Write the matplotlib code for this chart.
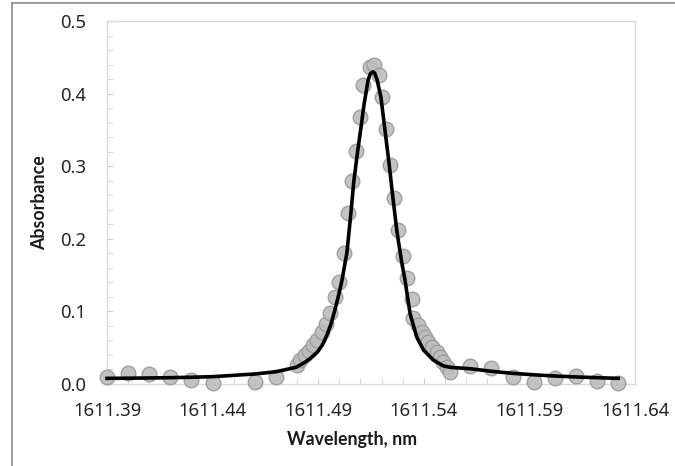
import matplotlib
matplotlib.use("Agg")
import matplotlib.pyplot as plt
from matplotlib.lines import Line2D
from matplotlib.ticker import MultipleLocator

# measured absorbance points
wavelength = [
    1611.390, 1611.400, 1611.410, 1611.420, 1611.430, 1611.440, 1611.460, 1611.470,
    1611.4798, 1611.4814, 1611.4838, 1611.4856, 1611.4877, 1611.4893, 1611.4917,
    1611.4937, 1611.4958, 1611.4980, 1611.5000, 1611.5022, 1611.5043, 1611.5060,
    1611.5079, 1611.5098, 1611.5114, 1611.5143, 1611.5162, 1611.5186, 1611.5201,
    1611.5221, 1611.5240, 1611.5259, 1611.5279, 1611.5300, 1611.5319, 1611.5342,
    1611.5350, 1611.5374, 1611.5390, 1611.5406, 1611.5421, 1611.5437, 1611.5461,
    1611.5477, 1611.5492, 1611.5511, 1611.5524,
    1611.562, 1611.572, 1611.582, 1611.592, 1611.602, 1611.612, 1611.622, 1611.632,
]
absorbance = [
    0.010, 0.0147, 0.0138, 0.0092, 0.0055, 0.001, 0.0024, 0.0092,
    0.026, 0.033, 0.040, 0.046, 0.054, 0.061, 0.071,
    0.0826, 0.098, 0.120, 0.140, 0.180, 0.235, 0.280,
    0.321, 0.368, 0.412, 0.437, 0.439, 0.4256, 0.3953,
    0.3512, 0.3017, 0.2562, 0.2121, 0.1763, 0.1456, 0.1171,
    0.0905, 0.0813, 0.072, 0.0652, 0.0583, 0.0514, 0.0445,
    0.0376, 0.0307, 0.023, 0.0169,
    0.0248, 0.0216, 0.0092, 0.0032, 0.0079, 0.011, 0.0045, 0.001,
]

# fitted profile
fit_wl = [
    1611.390, 1611.400, 1611.410, 1611.420, 1611.430, 1611.440, 1611.460, 1611.470,
    1611.4795, 1611.4814, 1611.4838, 1611.4861, 1611.4885, 1611.4899, 1611.4918,
    1611.4932, 1611.4946, 1611.4961, 1611.4980, 1611.4998, 1611.5012, 1611.5036,
    1611.5055, 1611.5069, 1611.5087, 1611.5101, 1611.5117, 1611.5136, 1611.5146,
    1611.5159, 1611.5168, 1611.5178, 1611.5197, 1611.5216, 1611.5235, 1611.5254,
    1611.5272, 1611.5279, 1611.5297, 1611.5311, 1611.5335, 1611.5366, 1611.5398,
    1611.5445, 1611.5492, 1611.5524,
    1611.562, 1611.572, 1611.582, 1611.592, 1611.602, 1611.612, 1611.622, 1611.632,
]
fit_abs = [
    0.0078, 0.0080, 0.0083, 0.0087, 0.0093, 0.0101, 0.0138, 0.0169,
    0.023, 0.026, 0.030, 0.035, 0.041, 0.045, 0.053,
    0.061, 0.071, 0.083, 0.103, 0.124, 0.142, 0.181,
    0.236, 0.280, 0.321, 0.350, 0.385, 0.418, 0.427,
    0.430, 0.428, 0.420, 0.395, 0.350, 0.305, 0.256,
    0.212, 0.198, 0.165, 0.143, 0.097, 0.065, 0.047,
    0.033, 0.025, 0.023,
    0.021, 0.0175, 0.0147, 0.0127, 0.011, 0.0097, 0.0087, 0.0078,
]

x_ticks = [1611.39, 1611.44, 1611.49, 1611.54, 1611.59, 1611.64]
y_ticks = [0.0, 0.1, 0.2, 0.3, 0.4, 0.5]

plt.rcParams["font.family"] = ["Noto Sans", "DejaVu Sans"]

fig = plt.figure(figsize=(6.75, 4.66), dpi=100)
ax = fig.add_axes([107 / 675, 82 / 466, 528 / 675, 363 / 466])

ax.plot(wavelength, absorbance, "o", ms=10.5, mfc="#bdbdbd", mec="#9a9a9a",
        mew=1.0, alpha=0.9, clip_on=False, zorder=3)
ax.plot(fit_wl, fit_abs, color="black", lw=2.6, clip_on=False, zorder=4)

ax.set_xlim(1611.39, 1611.64)
ax.set_ylim(0, 0.5)
ax.set_xticks(x_ticks)
ax.set_xticklabels([f"{t:.2f}" for t in x_ticks])
ax.set_yticks(y_ticks)
ax.set_yticklabels([f"{t:.1f}" for t in y_ticks])
ax.xaxis.set_minor_locator(MultipleLocator(0.01))
ax.yaxis.set_minor_locator(MultipleLocator(0.02))
ax.tick_params(which="both", direction="in", length=4, color="#d0d0d0",
               labelsize=13.3, labelcolor="#262626")
ax.tick_params(axis="x", pad=13)
ax.tick_params(axis="y", pad=15)
for s in ax.spines.values():
    s.set_color("#d9d9d9")
    s.set_linewidth(1.0)

ax.set_xlabel("Wavelength, nm", family="Lato", fontsize=12.8,
              fontweight="bold", color="#1a1a1a")
ax.set_ylabel("Absorbance", family="Lato", fontsize=12.8,
              fontweight="bold", color="#1a1a1a")
ax.xaxis.set_label_coords(0.464, -0.13)
ax.yaxis.set_label_coords(-0.112, 0.5)

# chart area frame
fx, fy = 12 / 675, 1 - 3 / 466
fig.add_artist(Line2D([fx, fx], [0, fy], color="#8c8c8c", lw=1.2))
fig.add_artist(Line2D([fx, 1], [fy, fy], color="#8c8c8c", lw=1.2))

fig.savefig("out.png", dpi=100)
